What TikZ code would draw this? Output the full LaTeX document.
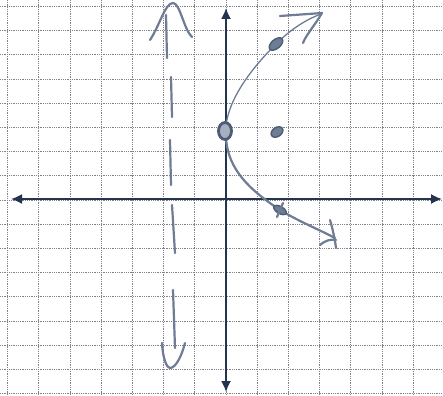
\documentclass[tikz,border=0pt]{standalone}
\usetikzlibrary{arrows.meta}
\definecolor{axiscol}{RGB}{34,52,78}
\definecolor{penc}{RGB}{110,124,148}
\definecolor{dotc}{RGB}{78,93,118}
\definecolor{gridc}{RGB}{130,130,138}
\tikzset{
  gridline/.style={gridc, line width=0.75pt, dash pattern=on 0.9pt off 0.9pt},
  axisline/.style={axiscol, line width=1.7pt, {Latex[length=11pt,width=10pt]}-{Latex[length=11pt,width=10pt]}},
  pencil/.style={penc, line width=2.2pt, line cap=round, line join=round},
  thinpencil/.style={penc, line width=1.3pt, line cap=round},
  dotmark/.style={fill=penc, draw=dotc, line width=1.4pt}
}
\begin{document}
\begin{tikzpicture}[x=1pt,y=-1pt]
\useasboundingbox (0,0) rectangle (443,395);
\fill[white] (0,0) rectangle (443,395);
% grid
\foreach \k in {0,...,13} {
  \draw[gridline] ({7.6+31.2*\k},0) -- ({7.6+31.2*\k},395);
}
\foreach \j in {-8,...,8} {
  \draw[gridline] (0,{200+24.2*\j}) -- (443,{200+24.2*\j});
}
% axes
\coordinate (xl) at (11,199);
\coordinate (xr) at (442,199);
\coordinate (yt) at (226,8);
\coordinate (yb) at (226,392);
\draw[axisline] (xl) -- (xr);
\draw[axisline] (yb) -- (yt);
% asymptote
\draw[pencil] (167,58) -- (166,15);
\draw[pencil] (150,40) .. controls (160,25) and (165,3) .. (173,3) .. controls (180,3) and (184,30) .. (192,37);
\draw[pencil] (171,77) -- (172,117);
\draw[pencil] (170,140) -- (171,185);
\draw[pencil] (172,205) -- (175,253);
\draw[pencil] (173,290) -- (175,348);
\draw[pencil] (162,343) .. controls (163,360) and (167,368) .. (170,368) .. controls (176,368) and (182,355) .. (185,343);
% curve upper branch
\draw[thinpencil] (226,125) .. controls (230,95) and (255,65) .. (276,44) .. controls (290,30) and (305,20) .. (321,14);
\draw[pencil] (280,16) -- (322,13) .. controls (315,25) and (306,35) .. (303,43);
% curve lower branch
\draw[pencil] (226,138) .. controls (228,170) and (250,190) .. (280,210) .. controls (300,222) and (320,230) .. (335,238);
\draw[pencil] (330,220) .. controls (333,230) and (335,240) .. (336,248);
\draw[pencil] (320,245) .. controls (326,240) and (331,239) .. (336,240);
% points
\draw[fill=penc!60, draw=dotc, line width=2.8pt] (225,131) ellipse [x radius=6.5, y radius=8.5];
\draw[dotmark, rotate around={35:(277,132)}] (277,132) ellipse [x radius=6.5, y radius=4.5];
\draw[dotmark, rotate around={40:(276,44)}] (276,44) ellipse [x radius=8, y radius=4.5];
\draw[dotmark, rotate around={-30:(280,210)}] (280,210) ellipse [x radius=7, y radius=3.5];
\draw[pencil] (277,217) -- (283,203);
\end{tikzpicture}
\end{document}
